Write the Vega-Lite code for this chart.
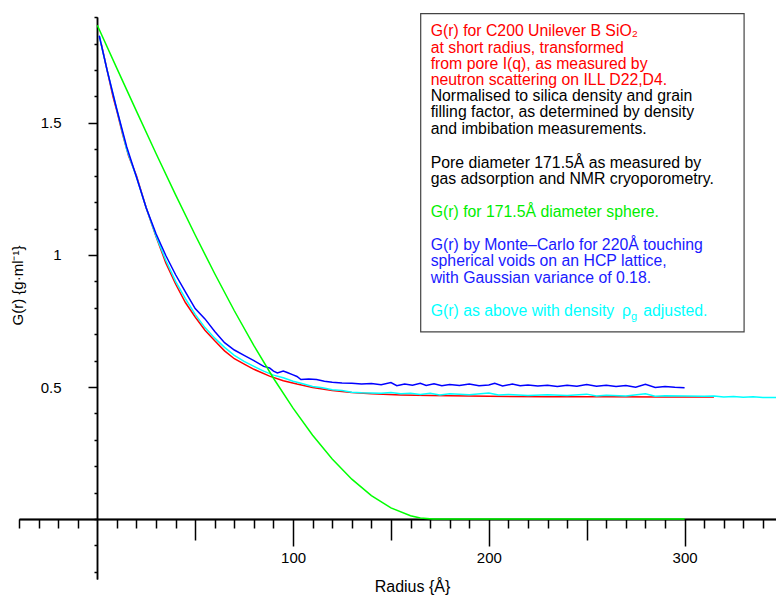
{
  "$schema": "https://vega.github.io/schema/vega-lite/v6.json",
  "autosize": {"type": "none"},
  "width": 757,
  "height": 562,
  "padding": {"left": 19, "top": 17, "right": 0, "bottom": 18},
  "background": "white",
  "config": {
    "view": {"stroke": null},
    "axis": {"tickColor": "black", "tickWidth": 1.5, "domainColor": "black", "domainWidth": 1.5, "grid": false, "labelOverlap": false, "labelFlush": false, "labelFont": "Liberation Sans", "labelFontSize": 15, "labelColor": "black", "titleFont": "Liberation Sans", "titleFontWeight": "normal", "titleColor": "black"}
  },
  "resolve": {"axis": {"x": "independent", "y": "independent"}},
  "layer": [
    {
      "data": {"values": [{}]},
      "mark": {"type": "rect", "fill": "white", "stroke": "#444444", "strokeWidth": 1.2},
      "encoding": {
        "x": {"datum": 165.2, "type": "quantitative",
          "scale": {"domain": [-40, 346.7], "nice": false, "zero": false},
          "axis": {"orient": "bottom", "offset": -60, "values": [50, 150, 250], "tickSize": 21, "labels": false, "title": null}},
        "x2": {"datum": 330.4},
        "y": {"datum": 1.914, "type": "quantitative",
          "scale": {"domain": [-0.227, 1.901], "nice": false, "zero": false},
          "axis": {"orient": "left", "offset": -78, "values": [-0.2,-0.1,0,0.1,0.2,0.3,0.4,0.6,0.7,0.8,0.9,1.1,1.2,1.3,1.4,1.6,1.7,1.8,1.9], "tickSize": 3, "labels": false, "title": null}},
        "y2": {"datum": 0.709}
      }
    },
    {
      "data": {"values": [
        {"s":"red","r":2,"g":1.80},{"s":"red","r":5,"g":1.70},{"s":"red","r":8,"g":1.60},{"s":"red","r":10,"g":1.545},{"s":"red","r":13,"g":1.455},{"s":"red","r":16,"g":1.375},{"s":"red","r":20,"g":1.30},{"s":"red","r":25,"g":1.178},{"s":"red","r":30,"g":1.07},{"s":"red","r":35,"g":0.97},{"s":"red","r":40,"g":0.89},{"s":"red","r":45,"g":0.82},{"s":"red","r":50,"g":0.765},{"s":"red","r":55,"g":0.715},{"s":"red","r":60,"g":0.675},{"s":"red","r":65,"g":0.637},{"s":"red","r":70,"g":0.607},{"s":"red","r":76,"g":0.583},{"s":"red","r":80,"g":0.567},{"s":"red","r":88,"g":0.541},{"s":"red","r":95,"g":0.524},{"s":"red","r":102,"g":0.511},{"s":"red","r":110,"g":0.498},{"s":"red","r":120,"g":0.487},{"s":"red","r":130,"g":0.479},{"s":"red","r":140,"g":0.474},{"s":"red","r":155,"g":0.470},{"s":"red","r":170,"g":0.468},{"s":"red","r":200,"g":0.465},{"s":"red","r":230,"g":0.463},{"s":"red","r":260,"g":0.463},{"s":"red","r":290,"g":0.462},{"s":"red","r":315,"g":0.462},

        {"s":"cyan","r":1,"g":1.83},{"s":"cyan","r":5,"g":1.70},{"s":"cyan","r":10,"g":1.55},{"s":"cyan","r":15,"g":1.40},{"s":"cyan","r":20,"g":1.295},{"s":"cyan","r":25,"g":1.178},{"s":"cyan","r":30,"g":1.072},{"s":"cyan","r":35,"g":0.98},{"s":"cyan","r":40,"g":0.90},{"s":"cyan","r":45,"g":0.835},{"s":"cyan","r":50,"g":0.775},{"s":"cyan","r":55,"g":0.725},{"s":"cyan","r":60,"g":0.685},{"s":"cyan","r":65,"g":0.650},{"s":"cyan","r":70,"g":0.620},{"s":"cyan","r":75,"g":0.597},{"s":"cyan","r":80,"g":0.578},{"s":"cyan","r":85,"g":0.560},{"s":"cyan","r":90,"g":0.545},{"s":"cyan","r":95,"g":0.535},{"s":"cyan","r":100,"g":0.522},{"s":"cyan","r":105,"g":0.512},{"s":"cyan","r":110,"g":0.502},{"s":"cyan","r":115,"g":0.497},{"s":"cyan","r":120,"g":0.490},{"s":"cyan","r":125,"g":0.487},{"s":"cyan","r":130,"g":0.480},{"s":"cyan","r":135,"g":0.478},{"s":"cyan","r":140,"g":0.477},{"s":"cyan","r":145,"g":0.476},{"s":"cyan","r":150,"g":0.479},{"s":"cyan","r":155,"g":0.474},{"s":"cyan","r":160,"g":0.476},{"s":"cyan","r":165,"g":0.472},{"s":"cyan","r":170,"g":0.476},{"s":"cyan","r":175,"g":0.470},{"s":"cyan","r":180,"g":0.474},{"s":"cyan","r":190,"g":0.471},{"s":"cyan","r":200,"g":0.477},{"s":"cyan","r":205,"g":0.470},{"s":"cyan","r":210,"g":0.472},{"s":"cyan","r":220,"g":0.468},{"s":"cyan","r":230,"g":0.471},{"s":"cyan","r":240,"g":0.468},{"s":"cyan","r":250,"g":0.473},{"s":"cyan","r":255,"g":0.466},{"s":"cyan","r":260,"g":0.469},{"s":"cyan","r":270,"g":0.466},{"s":"cyan","r":280,"g":0.474},{"s":"cyan","r":285,"g":0.465},{"s":"cyan","r":290,"g":0.467},{"s":"cyan","r":300,"g":0.466},{"s":"cyan","r":310,"g":0.465},{"s":"cyan","r":315,"g":0.466},{"s":"cyan","r":320,"g":0.462},{"s":"cyan","r":325,"g":0.464},{"s":"cyan","r":330,"g":0.461},{"s":"cyan","r":335,"g":0.463},{"s":"cyan","r":340,"g":0.460},{"s":"cyan","r":347,"g":0.460},

        {"s":"blue","r":1,"g":1.83},{"s":"blue","r":5,"g":1.70},{"s":"blue","r":10,"g":1.55},{"s":"blue","r":15,"g":1.41},{"s":"blue","r":20,"g":1.295},{"s":"blue","r":25,"g":1.178},{"s":"blue","r":30,"g":1.08},{"s":"blue","r":35,"g":0.998},{"s":"blue","r":40,"g":0.925},{"s":"blue","r":45,"g":0.86},{"s":"blue","r":50,"g":0.797},{"s":"blue","r":55,"g":0.758},{"s":"blue","r":60,"g":0.71},{"s":"blue","r":65,"g":0.668},{"s":"blue","r":70,"g":0.640},{"s":"blue","r":75,"g":0.620},{"s":"blue","r":80,"g":0.600},{"s":"blue","r":85,"g":0.578},{"s":"blue","r":88,"g":0.572},{"s":"blue","r":90,"g":0.560},{"s":"blue","r":92,"g":0.553},{"s":"blue","r":95,"g":0.560},{"s":"blue","r":97,"g":0.555},{"s":"blue","r":100,"g":0.546},{"s":"blue","r":102,"g":0.540},{"s":"blue","r":104,"g":0.528},{"s":"blue","r":108,"g":0.530},{"s":"blue","r":112,"g":0.528},{"s":"blue","r":116,"g":0.522},{"s":"blue","r":120,"g":0.518},{"s":"blue","r":125,"g":0.515},{"s":"blue","r":130,"g":0.514},{"s":"blue","r":135,"g":0.511},{"s":"blue","r":140,"g":0.513},{"s":"blue","r":145,"g":0.509},{"s":"blue","r":150,"g":0.517},{"s":"blue","r":153,"g":0.505},{"s":"blue","r":157,"g":0.511},{"s":"blue","r":161,"g":0.507},{"s":"blue","r":165,"g":0.514},{"s":"blue","r":168,"g":0.506},{"s":"blue","r":172,"g":0.512},{"s":"blue","r":176,"g":0.505},{"s":"blue","r":180,"g":0.509},{"s":"blue","r":185,"g":0.506},{"s":"blue","r":190,"g":0.511},{"s":"blue","r":195,"g":0.505},{"s":"blue","r":200,"g":0.508},{"s":"blue","r":203,"g":0.514},{"s":"blue","r":207,"g":0.504},{"s":"blue","r":212,"g":0.511},{"s":"blue","r":216,"g":0.505},{"s":"blue","r":220,"g":0.508},{"s":"blue","r":225,"g":0.504},{"s":"blue","r":230,"g":0.507},{"s":"blue","r":235,"g":0.502},{"s":"blue","r":240,"g":0.507},{"s":"blue","r":245,"g":0.503},{"s":"blue","r":250,"g":0.509},{"s":"blue","r":255,"g":0.503},{"s":"blue","r":260,"g":0.507},{"s":"blue","r":265,"g":0.502},{"s":"blue","r":270,"g":0.506},{"s":"blue","r":275,"g":0.499},{"s":"blue","r":280,"g":0.510},{"s":"blue","r":285,"g":0.498},{"s":"blue","r":290,"g":0.502},{"s":"blue","r":295,"g":0.499},{"s":"blue","r":300,"g":0.497},

        {"s":"green","r":0,"g":1.87},{"s":"green","r":10,"g":1.7066},{"s":"green","r":20,"g":1.5444},{"s":"green","r":30,"g":1.3843},{"s":"green","r":40,"g":1.2276},{"s":"green","r":50,"g":1.0754},{"s":"green","r":60,"g":0.9287},{"s":"green","r":70,"g":0.7887},{"s":"green","r":80,"g":0.6565},{"s":"green","r":90,"g":0.5331},{"s":"green","r":100,"g":0.4198},{"s":"green","r":110,"g":0.3176},{"s":"green","r":120,"g":0.2276},{"s":"green","r":130,"g":0.1510},{"s":"green","r":140,"g":0.0888},{"s":"green","r":150,"g":0.0422},{"s":"green","r":160,"g":0.0123},{"s":"green","r":165,"g":0.0040},{"s":"green","r":171.5,"g":0},{"s":"green","r":300,"g":0}
      ]},
      "mark": {"type": "line", "strokeWidth": 1.5, "clip": true},
      "encoding": {
        "x": {
          "field": "r", "type": "quantitative",
          "axis": {
            "orient": "bottom", "offset": -60, "values": [100, 200, 300], "tickSize": 27, "labelPadding": 4,
            "title": "Radius {Å}", "titleFontSize": 16, "titleX": 393, "titleY": 67, "titleBaseline": "middle"
          }
        },
        "y": {
          "field": "g", "type": "quantitative",
          "axis": {
            "orient": "left", "offset": -78, "values": [0.5, 1, 1.5], "tickSize": 9, "labelPadding": 27,
            "labelExpr": "datum.value < 0.75 ? '0.5' : datum.value < 1.25 ? '1' : '1.5'",
            "title": "G(r) {g·ml⁻¹}", "titleFontSize": 15,
            "titleX": -80, "titleY": 268, "titleBaseline": "middle", "titleAngle": 270
          }
        },
        "color": {
          "field": "s", "type": "nominal",
          "scale": {"domain": ["red", "cyan", "blue", "green"], "range": ["#ff0000", "#00ffff", "#0000ff", "#00ff00"]},
          "legend": null
        }
      }
    },
    {
      "data": {"values": [{}]},
      "mark": {"type": "text", "align": "left", "baseline": "alphabetic", "font": "Liberation Sans", "fontSize": 15.8, "lineHeight": 16.3, "color": "#ff0000"},
      "encoding": {
        "x": {"datum": 170.3, "type": "quantitative",
          "axis": {"orient": "bottom", "offset": -60, "values": [-40,-30,-20,-10,10,20,30,40,60,70,80,90,110,120,130,140,160,170,180,190,210,220,230,240,260,270,280,290,310,320,330,340], "tickSize": 9, "labels": false, "title": null}},
        "y": {"datum": 1.828, "type": "quantitative", "axis": null},
        "text": {"value": ["G(r) for C200 Unilever B SiO₂", "at short radius, transformed", "from pore I(q), as measured by", "neutron scattering on ILL D22,D4."]}
      }
    },
    {
      "data": {"values": [{}]},
      "mark": {"type": "text", "align": "left", "baseline": "alphabetic", "font": "Liberation Sans", "fontSize": 15.8, "lineHeight": 16.3, "color": "black"},
      "encoding": {
        "x": {"datum": 170.3, "type": "quantitative", "axis": null},
        "y": {"datum": 1.583, "type": "quantitative", "axis": null},
        "text": {"value": ["Normalised to silica density and grain", "filling factor, as determined by density", "and imbibation measurements."]}
      }
    },
    {
      "data": {"values": [{}]},
      "mark": {"type": "text", "align": "left", "baseline": "alphabetic", "font": "Liberation Sans", "fontSize": 15.8, "lineHeight": 16.6, "color": "black"},
      "encoding": {
        "x": {"datum": 170.3, "type": "quantitative", "axis": null},
        "y": {"datum": 1.331, "type": "quantitative", "axis": null},
        "text": {"value": ["Pore diameter 171.5Å as measured by", "gas adsorption and NMR cryoporometry."]}
      }
    },
    {
      "data": {"values": [{}]},
      "mark": {"type": "text", "align": "left", "baseline": "alphabetic", "font": "Liberation Sans", "fontSize": 15.8, "color": "#00ee00"},
      "encoding": {
        "x": {"datum": 170.3, "type": "quantitative", "axis": null},
        "y": {"datum": 1.144, "type": "quantitative", "axis": null},
        "text": {"value": "G(r) for 171.5Å diameter sphere."}
      }
    },
    {
      "data": {"values": [{}]},
      "mark": {"type": "text", "align": "left", "baseline": "alphabetic", "font": "Liberation Sans", "fontSize": 15.8, "lineHeight": 16.3, "color": "#1a1aff"},
      "encoding": {
        "x": {"datum": 170.3, "type": "quantitative", "axis": null},
        "y": {"datum": 1.018, "type": "quantitative", "axis": null},
        "text": {"value": ["G(r) by Monte–Carlo for 220Å touching", "spherical voids on an HCP lattice,", "with Gaussian variance of 0.18."]}
      }
    },
    {
      "data": {"values": [{}]},
      "mark": {"type": "text", "align": "left", "baseline": "alphabetic", "font": "Liberation Sans", "fontSize": 15.8, "color": "#00ffff"},
      "encoding": {
        "x": {"datum": 170.3, "type": "quantitative", "axis": null},
        "y": {"datum": 0.768, "type": "quantitative", "axis": null},
        "text": {"value": "G(r) as above with density"}
      }
    },
    {
      "data": {"values": [{}]},
      "mark": {"type": "text", "align": "left", "baseline": "alphabetic", "font": "Liberation Sans", "fontSize": 15.8, "color": "#00ffff"},
      "encoding": {
        "x": {"datum": 268.0, "type": "quantitative", "axis": null},
        "y": {"datum": 0.768, "type": "quantitative", "axis": null},
        "text": {"value": "ρ"}
      }
    },
    {
      "data": {"values": [{}]},
      "mark": {"type": "text", "align": "left", "baseline": "alphabetic", "font": "Liberation Sans", "fontSize": 11, "color": "#00ffff"},
      "encoding": {
        "x": {"datum": 272.6, "type": "quantitative", "axis": null},
        "y": {"datum": 0.753, "type": "quantitative", "axis": null},
        "text": {"value": "g"}
      }
    },
    {
      "data": {"values": [{}]},
      "mark": {"type": "text", "align": "left", "baseline": "alphabetic", "font": "Liberation Sans", "fontSize": 15.8, "color": "#00ffff"},
      "encoding": {
        "x": {"datum": 278.9, "type": "quantitative", "axis": null},
        "y": {"datum": 0.768, "type": "quantitative", "axis": null},
        "text": {"value": "adjusted."}
      }
    }
  ]
}
